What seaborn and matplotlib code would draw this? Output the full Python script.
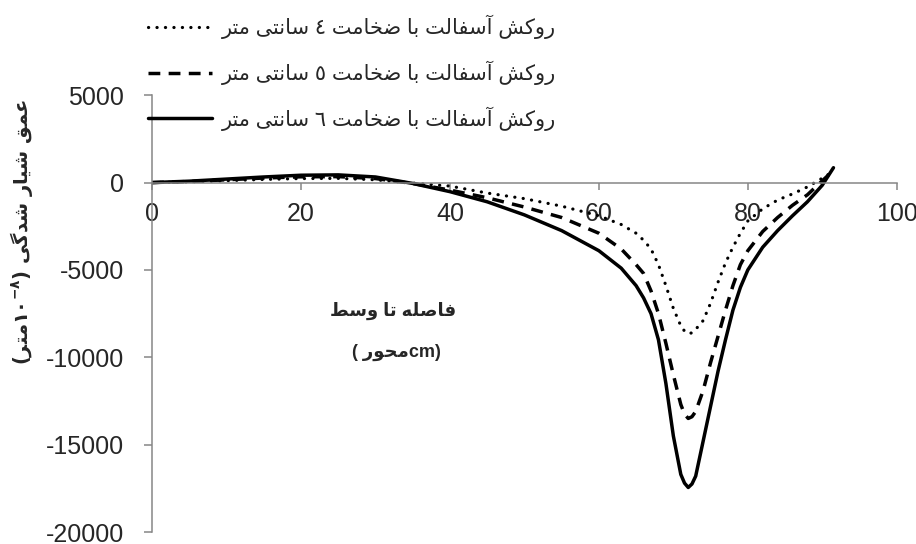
import numpy as np
import pandas as pd
import matplotlib
matplotlib.use("Agg")
import matplotlib.pyplot as plt
import seaborn as sns

# distance to the axis centre (cm)
x_cm = [0, 5, 10, 15, 20, 25, 30, 35, 40, 45, 50, 55, 60, 63, 65, 66, 67, 68, 69, 70,
        71, 71.5, 72, 72.5, 73, 74, 75, 76, 77, 78, 79, 80, 82, 84, 86, 88, 90, 91.5]

# rut depth (1e-8 m) for each overlay thickness
rut_4cm = [0, 40, 110, 180, 230, 240, 160, -30, -200, -600, -920, -1350, -1900, -2400,
           -2900, -3300, -3800, -4700, -5900, -7200, -8200, -8500, -8650, -8600, -8400,
           -7900, -6900, -5700, -4600, -3700, -2900, -2200, -1500, -1000, -650, -250, 250, 650]
rut_5cm = [0, 60, 160, 260, 330, 340, 230, -50, -430, -870, -1400, -2000, -2900, -3800,
           -4700, -5200, -6200, -7500, -9200, -11000, -12700, -13250, -13500, -13400, -13100,
           -11900, -10300, -8800, -7300, -5900, -4700, -3900, -2800, -2000, -1300, -700, 100, 700]
rut_6cm = [0, 80, 200, 320, 420, 440, 320, -50, -520, -1100, -1850, -2750, -3900, -4900,
           -5900, -6600, -7500, -9000, -11500, -14500, -16700, -17200, -17450, -17250, -16800,
           -14800, -12800, -10800, -9000, -7300, -6000, -5000, -3700, -2750, -1900, -1100, -150, 850]

# --- minimal Arabic/Persian shaping (matplotlib has no complex text layout) ---
FORMS = {
    'ا': ('\uFE8D', '\uFE8E', None, None), 'آ': ('\uFE81', '\uFE82', None, None),
    'د': ('\uFEA9', '\uFEAA', None, None), 'ر': ('\uFEAD', '\uFEAE', None, None),
    'و': ('\uFEED', '\uFEEE', None, None),
    'ب': ('\uFE8F', '\uFE90', '\uFE91', '\uFE92'), 'ت': ('\uFE95', '\uFE96', '\uFE97', '\uFE98'),
    'ح': ('\uFEA1', '\uFEA2', '\uFEA3', '\uFEA4'), 'خ': ('\uFEA5', '\uFEA6', '\uFEA7', '\uFEA8'),
    'س': ('\uFEB1', '\uFEB2', '\uFEB3', '\uFEB4'), 'ش': ('\uFEB5', '\uFEB6', '\uFEB7', '\uFEB8'),
    'ص': ('\uFEB9', '\uFEBA', '\uFEBB', '\uFEBC'), 'ض': ('\uFEBD', '\uFEBE', '\uFEBF', '\uFEC0'),
    'ط': ('\uFEC1', '\uFEC2', '\uFEC3', '\uFEC4'), 'ع': ('\uFEC9', '\uFECA', '\uFECB', '\uFECC'),
    'ف': ('\uFED1', '\uFED2', '\uFED3', '\uFED4'), 'ق': ('\uFED5', '\uFED6', '\uFED7', '\uFED8'),
    'ل': ('\uFEDD', '\uFEDE', '\uFEDF', '\uFEE0'), 'م': ('\uFEE1', '\uFEE2', '\uFEE3', '\uFEE4'),
    'ن': ('\uFEE5', '\uFEE6', '\uFEE7', '\uFEE8'), 'ه': ('\uFEE9', '\uFEEA', '\uFEEB', '\uFEEC'),
    'ک': ('\uFB8E', '\uFB8F', '\uFB90', '\uFB91'), 'گ': ('\uFB92', '\uFB93', '\uFB94', '\uFB95'),
    'ی': ('\uFBFC', '\uFBFD', '\uFBFE', '\uFBFF'),
}


def shape(text):
    out = []
    for i, ch in enumerate(text):
        if ch not in FORMS:
            out.append(ch)
            continue
        iso, fin, ini, med = FORMS[ch]
        prev = text[i - 1] if i > 0 else ''
        nxt = text[i + 1] if i + 1 < len(text) else ''
        jp = prev in FORMS and FORMS[prev][2] is not None
        jn = nxt in FORMS and ini is not None
        if jp and jn:
            out.append(med)
        elif jp:
            out.append(fin)
        elif jn:
            out.append(ini)
        else:
            out.append(iso)
    return ''.join(out)


def rtl(text):
    return shape(text)[::-1]


labels = [rtl('روکش آسفالت با ضخامت ٤ سانتی متر'),
          rtl('روکش آسفالت با ضخامت ٥ سانتی متر'),
          rtl('روکش آسفالت با ضخامت ٦ سانتی متر')]
ylabel = ('(' + rtl('متر') + r'$\mathregular{۱۰^{-۸}}$' + ') '
          + rtl('عمق شیار شدگی'))
xlabel_1 = rtl('فاصله تا وسط')
xlabel_2 = '( ' + rtl('محور') + 'cm)'

sns.set_style('white')
plt.rcParams['font.family'] = ['Liberation Sans', 'DejaVu Sans']
plt.rcParams['axes.unicode_minus'] = False
plt.rcParams['mathtext.fontset'] = 'dejavusans'

fig = plt.figure(figsize=(9.16, 5.44), dpi=100)
ax = fig.add_axes([0.166, 0.022, 0.813, 0.803])

series = [(rut_4cm, dict(ls=(0, (0.05, 2.6)), dash_capstyle='round', lw=2.3)),
          (rut_5cm, dict(ls=(0, (3.4, 2.4)), lw=2.5)),
          (rut_6cm, dict(ls='-', lw=2.5))]
handles = []
for (vals, style), lab in zip(series, labels):
    sns.lineplot(x=x_cm, y=vals, color='black', ax=ax, **style)
    handles.append(ax.lines[-1])

ax.set_xlim(0, 100)
ax.set_ylim(-20000, 5000)
ax.set_xticks([0, 20, 40, 60, 80, 100])
ax.set_yticks([-20000, -15000, -10000, -5000, 0, 5000])

grey = '#868686'
for s in ['top', 'right']:
    ax.spines[s].set_visible(False)
ax.spines['bottom'].set_position(('data', 0))
ax.spines['bottom'].set_color(grey)
ax.spines['left'].set_color(grey)
ax.spines['bottom'].set_linewidth(1.1)
ax.spines['left'].set_linewidth(1.1)
ax.tick_params(axis='x', direction='out', length=5, width=1.1, color=grey,
               labelsize=18, pad=9, bottom=True)
ax.tick_params(axis='y', direction='out', length=6, width=1.1, color=grey,
               labelsize=18, pad=14, left=True)
ax.set_xlabel('')
ax.set_ylabel('')

fig.text(0.024, 0.574, ylabel, rotation=90, ha='center', va='center',
         fontsize=14, fontweight='bold', family='DejaVu Sans')
fig.text(0.429, 0.428, xlabel_1, ha='center', va='center', fontsize=13, fontweight='bold')
fig.text(0.433, 0.353, xlabel_2, ha='center', va='center', fontsize=13, fontweight='bold')

leg = ax.legend(handles, labels, loc='upper left', bbox_to_anchor=(148 / 916, 1 - 15 / 544),
                bbox_transform=fig.transFigure, frameon=False, fontsize=15,
                handlelength=3.05, handletextpad=0.5, labelspacing=1.02, borderpad=0,
                borderaxespad=0)

fig.savefig('out.png', dpi=100)
